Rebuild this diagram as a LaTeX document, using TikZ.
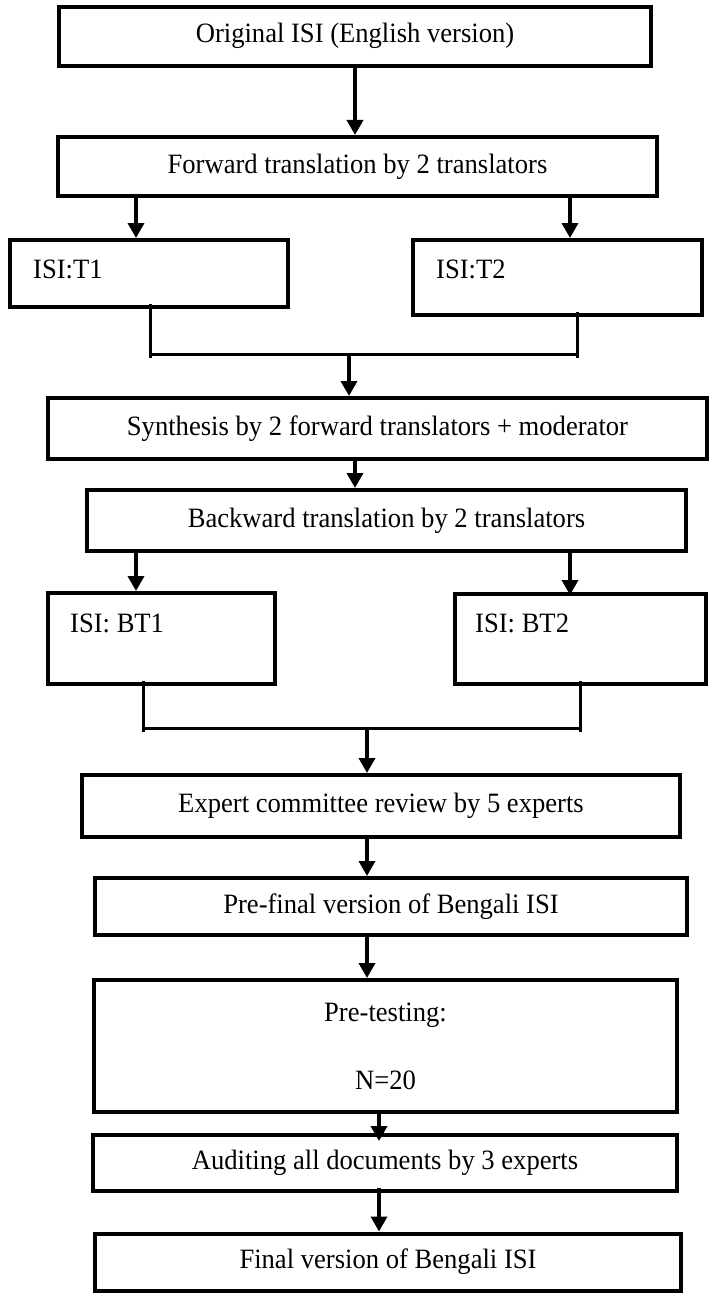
\documentclass[tikz,border=0pt]{standalone}
\usepackage{fontspec}
\setmainfont[FakeStretch=0.95]{Liberation Serif}
\usetikzlibrary{arrows.meta,calc}
\begin{document}
\begin{tikzpicture}[x=1pt,y=-1pt,
  box/.style={draw, line width=4pt, inner sep=0pt, align=center,
    font=\fontsize{28}{33}\selectfont, text height=19pt, text depth=6pt},
  lbl/.style={anchor=base west, inner sep=0pt, font=\fontsize{28}{33}\selectfont},
  arr/.style={line width=3.5pt, -{Triangle[length=15pt,width=16pt]}},
  conn/.style={line width=3pt}]
\useasboundingbox (0,0) rectangle (710,1295);
% boxes
\node[box, minimum width=592pt, minimum height=59pt] (orig) at (355,36.5) {Original ISI (English version)};
\node[box, minimum width=599pt, minimum height=59pt] (fwd) at (357.5,166.5) {Forward translation by 2 translators};
\node[box, minimum width=278pt, minimum height=67pt] (t1) at (149,273.5) {};
\node[box, minimum width=289pt, minimum height=75pt] (t2) at (557.5,277.5) {};
\node[lbl] (t1l) at (33,278) {ISI:T1};
\node[lbl] (t2l) at (436,278) {ISI:T2};
\node[box, minimum width=659pt, minimum height=61pt] (syn) at (377.5,428.5) {Synthesis by 2 forward translators + moderator};
\node[box, minimum width=599pt, minimum height=61pt] (bwd) at (386.5,520.5) {Backward translation by 2 translators};
\node[box, minimum width=227pt, minimum height=91pt] (bt1) at (161.5,638.5) {};
\node[box, minimum width=251pt, minimum height=90pt] (bt2) at (580.5,639) {};
\node[lbl] (bt1l) at (70,632) {ISI: BT1};
\node[lbl] (bt2l) at (475,632) {ISI: BT2};
\node[box, minimum width=598pt, minimum height=62pt] (exp) at (381,806) {Expert committee review by 5 experts};
\node[box, minimum width=592pt, minimum height=57pt] (pre) at (391,906.5) {Pre-final version of Bengali ISI};
\node[box, minimum width=583pt, minimum height=132pt, text height=, text depth=] (pt) at (385.5,1046) {Pre-testing:\\[35pt]N=20};
\node[box, minimum width=584pt, minimum height=56pt] (aud) at (385,1163) {Auditing all documents by 3 experts};
\node[box, minimum width=586pt, minimum height=57pt] (fin) at (388,1262) {Final version of Bengali ISI};
% x positions of connectors
\coordinate (xa) at (136,0);
\coordinate (xb) at (570,0);
\coordinate (xc) at (150,0);
\coordinate (xd) at (577,0);
\coordinate (xf) at (355,0);
\coordinate (xg) at (143,0);
\coordinate (xh) at (580,0);
\coordinate (xi) at (367,0);
\coordinate (xj) at (379,0);
\coordinate (j1) at (349,354);
\coordinate (j2) at (367,728);
% arrows
\draw[arr] (orig.south) -- (orig.south |- fwd.north);
\draw[arr] ($(fwd.south -| xa)+(0,-2)$) -- (t1.north -| xa);
\draw[arr] ($(fwd.south -| xb)+(0,-4)$) -- (t2.north -| xb);
\draw[conn] ($(t1.south -| xc)+(0,-5)$) -- ($(j1 -| xc)+(0,4)$);
\draw[conn] ($(t2.south -| xd)+(0,-5)$) -- ($(j1 -| xd)+(0,4)$);
\draw[conn] (j1 -| xc) -- (j1 -| xd);
\draw[arr] (j1) -- (syn.north -| j1);
\draw[arr] (syn.south -| xf) -- (bwd.north -| xf);
\draw[arr] (bwd.south -| xa) -- (bt1.north -| xa);
\draw[arr] (bwd.south -| xb) -- ($(bt2.north -| xb)+(0,3)$);
\draw[conn] ($(bt1.south -| xg)+(0,-5)$) -- ($(j2 -| xg)+(0,4)$);
\draw[conn] ($(bt2.south -| xh)+(0,-5)$) -- ($(j2 -| xh)+(0,4)$);
\draw[conn] (j2 -| xg) -- (j2 -| xh);
\draw[arr] (j2) -- (exp.north -| j2);
\draw[arr] (exp.south -| xi) -- (pre.north -| xi);
\draw[arr] (pre.south -| xi) -- (pt.north -| xi);
\draw[arr] (pt.south -| xj) -- ($(aud.north -| xj)+(0,8)$);
\draw[arr] ($(aud.south -| xj)+(0,-5)$) -- (fin.north -| xj);
\end{tikzpicture}
\end{document}
